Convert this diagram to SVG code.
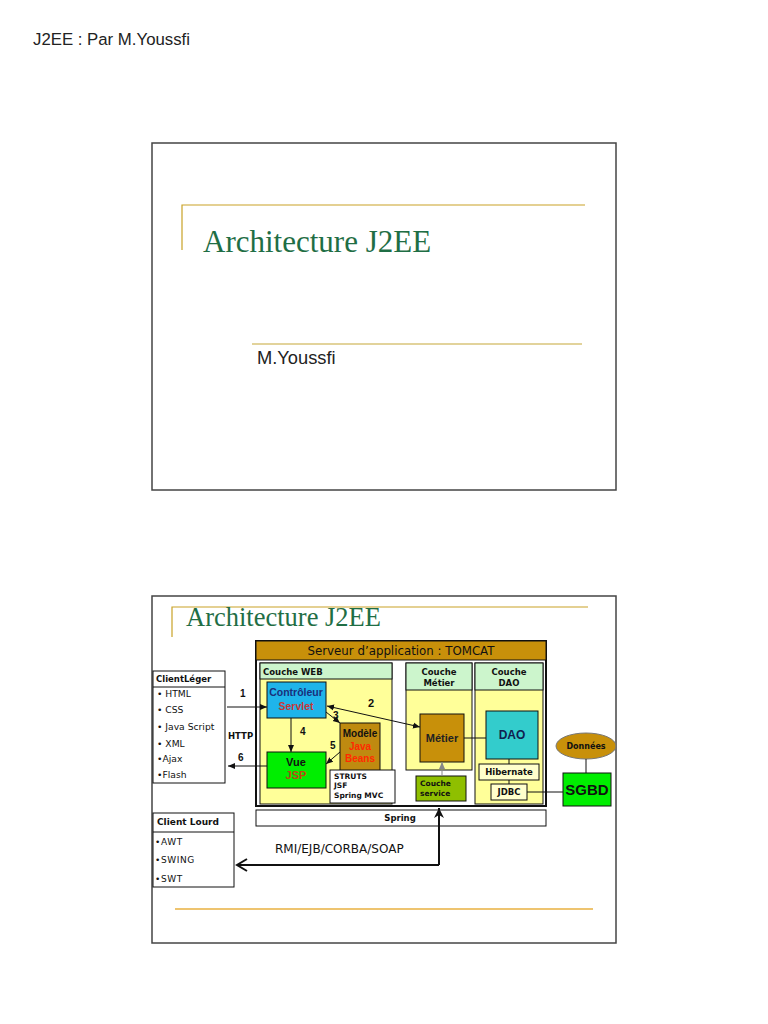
<svg xmlns="http://www.w3.org/2000/svg" width="768" height="1024" viewBox="0 0 768 1024">
<style>
.slide{fill:#fff;stroke:#444;stroke-width:1.5}
.gold{stroke:#c9a227;stroke-width:1.2;fill:none}
.title{font-family:"Liberation Serif",serif;fill:#1f6e45}
.hdr{font-family:"Liberation Sans",sans-serif;fill:#222}
.v{font-family:"DejaVu Sans",sans-serif;fill:#111}
.vb{font-family:"DejaVu Sans",sans-serif;font-weight:bold;fill:#111}
.a{font-family:"Liberation Sans",sans-serif;font-weight:bold}
.box{stroke:#111;stroke-width:1}
.ln{stroke:#111;stroke-width:1;fill:none}
</style>
<defs>
<marker id="ah" markerWidth="8" markerHeight="8" refX="7" refY="4" orient="auto" markerUnits="userSpaceOnUse">
<path d="M0,1 L7,4 L0,7 Z" fill="#111"/>
</marker>
<marker id="ahs" markerWidth="8" markerHeight="8" refX="7" refY="4" orient="auto-start-reverse" markerUnits="userSpaceOnUse">
<path d="M0,1 L7,4 L0,7 Z" fill="#111"/>
</marker>
<marker id="ahg" markerWidth="8" markerHeight="8" refX="7" refY="4" orient="auto" markerUnits="userSpaceOnUse">
<path d="M0,1 L7,4 L0,7 Z" fill="#888"/>
</marker>
<marker id="chev" markerWidth="14" markerHeight="14" refX="12" refY="7" orient="auto" markerUnits="userSpaceOnUse">
<path d="M2,1 L12,7 L2,13" fill="none" stroke="#111" stroke-width="2"/>
</marker>
<marker id="up" markerWidth="12" markerHeight="12" refX="10" refY="6" orient="auto" markerUnits="userSpaceOnUse">
<path d="M0,1 L10,6 L0,11 L3,6 Z" fill="#111"/>
</marker>
</defs>

<text class="hdr" x="33" y="45" font-size="16.8">J2EE : Par M.Youssfi</text>

<g id="slide1">
<rect class="slide" x="152" y="143" width="464" height="347"/>
<path class="gold" d="M182,250 L182,205 L585,205"/>
<text class="title" x="203" y="252" font-size="31">Architecture J2EE</text>
<line x1="252" y1="344" x2="582" y2="344" stroke="#d9c47a" stroke-width="1.5"/>
<text class="hdr" x="257" y="364" font-size="18.3">M.Youssfi</text>
</g>

<g id="slide2">
<rect class="slide" x="152" y="596" width="464" height="347"/>
<path class="gold" d="M172,637 L172,607 L588,607"/>
<text class="title" x="186" y="626" font-size="26.5">Architecture J2EE</text>
<line x1="175" y1="909" x2="593" y2="909" stroke="#e8b040" stroke-width="1.5"/>
</g>

<g id="tomcat">
<rect x="256" y="641" width="290" height="165" fill="#fff" stroke="#111" stroke-width="2"/>
<rect x="256" y="641" width="290" height="19" fill="#c8900a" stroke="#111" stroke-width="1"/>
<text class="v" x="401" y="655" font-size="11.8" text-anchor="middle" fill="#2a2a2a">Serveur d’application : TOMCAT</text>
</g>

<g id="couche-web">
<rect x="260" y="663" width="132" height="141" fill="#ffff99" class="box"/>
<rect x="260" y="663" width="132" height="16" fill="#ccf5cc" class="box"/>
<text class="vb" x="263" y="675" font-size="8.5">Couche WEB</text>
</g>

<g id="couche-metier">
<rect x="406" y="663" width="66" height="107" fill="#ffff99" class="box"/>
<rect x="406" y="663" width="66" height="27" fill="#ccf5cc" class="box"/>
<text class="vb" x="439" y="675" font-size="8.5" text-anchor="middle">Couche</text>
<text class="vb" x="439" y="686" font-size="8.5" text-anchor="middle">Métier</text>
</g>

<g id="couche-dao">
<rect x="475" y="663" width="68" height="141" fill="#ffff99" class="box"/>
<rect x="475" y="663" width="68" height="27" fill="#ccf5cc" class="box"/>
<text class="vb" x="509" y="675" font-size="8.5" text-anchor="middle">Couche</text>
<text class="vb" x="509" y="686" font-size="8.5" text-anchor="middle">DAO</text>
</g>

<g id="controleur">
<rect x="267" y="682" width="59" height="36" fill="#1fb4ea" class="box"/>
<text class="a" x="296" y="696" font-size="10.5" text-anchor="middle" fill="#1a2f7a">Contrôleur</text>
<text class="a" x="296" y="710" font-size="10.5" text-anchor="middle" fill="#c83838">Servlet</text>
</g>

<g id="modele">
<rect x="340" y="723" width="40" height="48" fill="#bf8a10" class="box"/>
<text class="a" x="360" y="737" font-size="10" text-anchor="middle" fill="#111">Modèle</text>
<text class="a" x="360" y="750" font-size="10" text-anchor="middle" fill="#ff2a00">Java</text>
<text class="a" x="360" y="762" font-size="10" text-anchor="middle" fill="#ff2a00">Beans</text>
</g>

<g id="vue">
<rect x="267" y="752" width="59" height="36" fill="#00ee00" class="box"/>
<text class="a" x="296" y="766" font-size="11" text-anchor="middle" fill="#111">Vue</text>
<text class="a" x="296" y="779" font-size="11" text-anchor="middle" fill="#b84a10">JSP</text>
</g>

<g id="struts">
<rect x="330" y="770" width="65" height="33" fill="#fff" class="box"/>
<text class="vb" x="334" y="779" font-size="7.5">STRUTS</text>
<text class="vb" x="334" y="788" font-size="7.5">JSF</text>
<text class="vb" x="334" y="798" font-size="7.5">Spring MVC</text>
</g>

<g id="metier">
<rect x="420" y="714" width="44" height="48" fill="#c8900a" class="box"/>
<text class="a" x="442" y="742" font-size="11" text-anchor="middle" fill="#222">Métier</text>
</g>

<g id="dao">
<rect x="486" y="711" width="52" height="48" fill="#33cccc" class="box"/>
<text class="a" x="512" y="739" font-size="12" text-anchor="middle" fill="#102050">DAO</text>
</g>

<g id="hibernate">
<rect x="479" y="764" width="60" height="16" fill="#ffffcc" class="box"/>
<text class="vb" x="509" y="775" font-size="8.5" text-anchor="middle">Hibernate</text>
</g>

<g id="jdbc">
<rect x="491" y="784" width="36" height="16" fill="#ffffcc" class="box"/>
<text class="vb" x="509" y="795" font-size="8.5" text-anchor="middle">JDBC</text>
</g>

<g id="couche-service">
<rect x="416" y="776" width="50" height="25" fill="#8fbf00" class="box"/>
<text class="vb" x="420" y="786" font-size="7.5">Couche</text>
<text class="vb" x="420" y="796" font-size="7.5">service</text>
</g>

<g id="donnees">
<ellipse cx="586" cy="746" rx="30" ry="13" fill="#c8900a" stroke="#777" stroke-width="1"/>
<text class="vb" x="586" y="749" font-size="8" text-anchor="middle">Données</text>
</g>

<g id="sgbd">
<rect x="563" y="773" width="48" height="33" fill="#00ee00" class="box"/>
<text class="a" x="587" y="795" font-size="15" text-anchor="middle" fill="#111">SGBD</text>
</g>

<g id="spring">
<rect x="256" y="810" width="290" height="16" fill="#fff" class="box"/>
<text class="vb" x="400" y="821" font-size="8.5" text-anchor="middle">Spring</text>
</g>

<g id="client-leger">
<rect x="153" y="671" width="72" height="112" fill="#fff" class="box"/>
<line x1="153" y1="687" x2="225" y2="687" class="ln"/>
<text class="vb" x="156" y="682" font-size="8.5">ClientLéger</text>
<g class="v" font-size="9.2">
<text x="157" y="697">• HTML</text>
<text x="157" y="713">• CSS</text>
<text x="157" y="730">• Java Script</text>
<text x="157" y="747">• XML</text>
<text x="157" y="762">•Ajax</text>
<text x="157" y="778">•Flash</text>
</g>
</g>

<g id="client-lourd">
<rect x="153" y="813" width="81" height="74" fill="#fff" class="box"/>
<line x1="153" y1="832" x2="234" y2="832" class="ln"/>
<text class="vb" x="157" y="825" font-size="9">Client Lourd</text>
<g class="v" font-size="9" letter-spacing="0.6">
<text x="155" y="845">•AWT</text>
<text x="155" y="863">•SWING</text>
<text x="155" y="882">•SWT</text>
</g>
</g>

<g id="connectors">
<line x1="227" y1="707" x2="267" y2="707" class="ln" marker-end="url(#ah)"/>
<line x1="267" y1="766" x2="228" y2="766" class="ln" marker-end="url(#ah)"/>
<line x1="291" y1="718" x2="291" y2="752" class="ln" marker-end="url(#ah)"/>
<line x1="326" y1="712" x2="340" y2="723" class="ln" marker-end="url(#ah)"/>
<line x1="340" y1="752" x2="326" y2="764" class="ln" marker-end="url(#ah)"/>
<line x1="327" y1="706" x2="420" y2="727" class="ln" marker-start="url(#ahs)" marker-end="url(#ahs)"/>
<line x1="442" y1="776" x2="442" y2="762" stroke="#888" stroke-width="1" marker-end="url(#ahg)"/>
<line x1="464" y1="738" x2="486" y2="738" class="ln"/>
<line x1="509" y1="759" x2="509" y2="764" class="ln"/>
<line x1="509" y1="780" x2="509" y2="784" class="ln"/>
<line x1="527" y1="792" x2="563" y2="792" class="ln"/>
<line x1="586" y1="759" x2="586" y2="773" class="ln"/>
<path d="M439,865 L439,808" fill="none" stroke="#111" stroke-width="2" marker-end="url(#up)"/>
<path d="M439,865 L237,865" fill="none" stroke="#111" stroke-width="2" marker-end="url(#chev)"/>
<text class="a" x="240" y="697" font-size="10" fill="#111">1</text>
<text class="a" x="368" y="707" font-size="11" fill="#111">2</text>
<text class="a" x="333" y="719" font-size="10" fill="#111">3</text>
<text class="a" x="300" y="735" font-size="10" fill="#111">4</text>
<text class="a" x="330" y="749" font-size="10" fill="#111">5</text>
<text class="a" x="238" y="761" font-size="10" fill="#111">6</text>
<text class="vb" x="228" y="739" font-size="8.5">HTTP</text>
<text class="v" x="275" y="853" font-size="12" fill="#222">RMI/EJB/CORBA/SOAP</text>
</g>
</svg>
